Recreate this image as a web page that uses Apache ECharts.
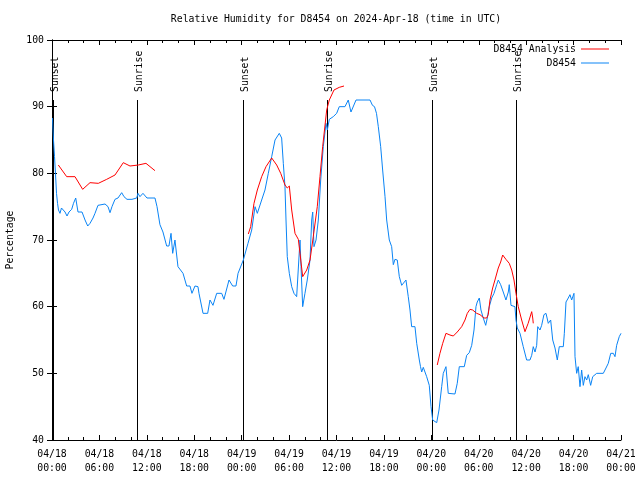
<!DOCTYPE html>
<html>
<head>
<meta charset="utf-8">
<script src="https://cdn.jsdelivr.net/npm/echarts@6/dist/echarts.min.js"></script>
<style>
html,body{margin:0;padding:0;background:#fff;}
#chart{width:640px;height:480px;}
</style>
</head>
<body>
<div id="chart"></div>
<script>
// ---- data (hours since 04/18 00:00 UTC, relative humidity %) ----
const xTickLabels = ['04/18\n00:00','04/18\n06:00','04/18\n12:00','04/18\n18:00','04/19\n00:00','04/19\n06:00','04/19\n12:00','04/19\n18:00','04/20\n00:00','04/20\n06:00','04/20\n12:00','04/20\n18:00','04/21\n00:00'];

const blueHours = [0.06,0.19,0.32,0.44,0.57,0.70,0.82,1.01,1.20,1.39,1.65,1.90,2.15,2.49,2.72,3.00,3.29,3.80,4.18,4.52,4.81,5.19,5.44,5.82,6.71,7.09,7.34,7.59,7.97,8.35,8.82,9.11,9.49,10.12,10.72,10.88,11.13,11.51,12.02,13.03,13.29,13.66,14.04,14.51,14.80,15.06,15.27,15.56,15.94,16.58,17.04,17.46,17.71,18.09,18.47,18.60,19.11,19.70,19.99,20.37,20.84,21.47,21.76,22.40,22.86,23.28,23.54,24.21,24.80,25.27,25.69,25.98,26.23,26.53,26.95,27.37,27.80,28.22,28.76,29.06,29.27,29.48,29.61,29.77,30.03,30.33,30.62,30.96,31.17,31.38,31.51,31.72,32.01,32.30,32.65,32.86,32.99,33.15,33.41,33.70,34.00,34.33,34.67,34.84,35.09,35.59,36.02,36.35,37.07,37.49,37.83,38.47,40.24,40.55,40.81,41.06,41.29,41.59,41.84,42.14,42.35,42.68,42.98,43.19,43.40,43.69,43.95,44.25,44.79,45.08,45.30,45.51,45.93,46.15,46.48,46.63,46.78,46.98,47.41,47.74,47.96,48.17,48.68,48.97,49.31,49.51,49.85,50.14,50.99,51.28,51.54,52.17,52.47,52.80,53.11,53.40,53.65,53.81,54.07,54.28,54.57,54.88,55.08,55.33,55.64,55.93,56.27,56.47,56.77,57.10,57.44,57.74,57.86,58.08,58.58,58.71,58.88,59.22,59.63,60.06,60.48,60.70,60.90,61.12,61.33,61.46,61.75,61.96,62.25,62.51,62.80,63.10,63.36,63.65,63.94,64.19,64.70,64.83,65.04,65.33,65.54,65.76,66.05,66.18,66.39,66.59,66.81,67.02,67.23,67.44,67.66,67.86,68.16,68.42,68.92,69.76,70.10,70.39,70.70,71.03,71.24,71.45,71.78,72.00];
const blueValues = [88.3,85,82.5,80,77,75.5,74.5,74,74.8,74.6,74.2,73.6,74.2,74.6,75.5,76.3,74.2,74.2,73,72.1,72.5,73.3,74,75.2,75.4,75,74.1,75,76.1,76.3,77.1,76.5,76.1,76.1,76.3,77,76.5,77,76.3,76.3,75,72.3,71.2,69.1,69.1,71,68,70,66,65,63.1,63.1,62,63.1,63,62,59,59,61,60.2,62,62,61.1,64,63.1,63.1,65,67,69.5,71.5,75,74,74,76,77.5,80,82.5,85,86,85.3,81.5,78,73,67.5,65,63,62,61.5,61.3,70,66,60,62,64,67,73,74.2,69,70,73,79,84,87.5,86.5,88.1,88.5,89,90,90,91,89.2,91,91,90.2,90,89,87,84,80.5,76.5,73,70,69,66.3,67.1,67,64.5,63.2,64,61.5,59.5,57,57,54.5,52,51,50.2,50.9,49.5,48.2,45,43,42.6,44.5,48,50,51,47,46.9,48.5,51,51,52.7,53.1,54.2,56.5,60,60.7,61.3,59.5,58.3,57.2,58.3,60,61.3,62,63.3,64,63.3,62.2,61,62.2,63.3,60.2,60,58,56.8,56,54,52,52,52.7,54,53.2,54.2,57,56.5,57.2,58.8,59,57.5,58,55,53.8,52,54,54,56,60.7,61.3,61.8,61,62,52.5,50,51,48,50.5,48.2,49.5,49,49.8,48.2,49.5,50,50,50.8,51.5,53,53,52.5,54.2,55.5,56];

const redHours = [0.80,1.86,2.91,3.88,4.81,5.86,6.92,7.97,9.02,9.87,10.92,11.89,13.03,
  18.0,
  24.84,25.14,25.56,25.98,26.53,27.08,27.80,28.43,28.94,29.48,29.77,30.03,30.33,30.75,31.17,31.38,31.72,32.23,32.65,33.06,33.57,33.91,34.25,34.76,35.09,35.68,36.35,36.95,
  42.0,
  48.75,49.09,49.44,49.85,50.36,50.78,51.28,51.84,52.26,52.55,52.89,53.23,53.74,54.16,54.66,55.00,55.20,55.42,55.76,56.05,56.47,56.77,57.03,57.44,57.86,58.17,58.46,58.71,59.00,59.43,59.85,60.25,60.70,60.83,60.90];
const redValues = [81.25,79.5,79.5,77.6,78.6,78.5,79.1,79.75,81.6,81.1,81.25,81.5,80.4,
  null,
  70.9,72,75.5,77.5,79.5,81,82.3,81.25,80,78.25,77.8,78.1,74.5,71,70.1,68,64.5,65.5,67,70.5,75,79.5,84,89.5,91,92.5,92.9,93.1,
  null,
  51.25,53,54.5,56,55.75,55.6,56.2,57,58,59,59.6,59.5,59,58.8,58.3,58.3,58.8,61,62.8,64,65.8,66.7,67.75,67.1,66.5,65.5,64,62,60,58,56.25,57.5,59.25,58.3,57.5];

const sunTimes = [0.08,10.77,24.13,34.83,48.09,58.75];
const sunLabels = ['Sunset','Sunrise','Sunset','Sunrise','Sunset','Sunrise'];
const sunLineTop = 91;

// ---- chart ----
const FONT = 'DejaVu Sans Mono';
const FS = 9.8;
const chart = echarts.init(document.getElementById('chart'), null, {renderer:'canvas'});

const blueData = blueHours.map((h,i)=>[h, blueValues[i]]);
const redData = redHours.map((h,i)=>[h, redValues[i] === null ? '-' : redValues[i]]);
const sunData = sunTimes.map((t,i)=>[t, sunLineTop, i]);

const axisLineStyle = {color:'#000', width:1};

chart.setOption({
  animation:false,
  backgroundColor:'#fff',
  title:{
    text:'Relative Humidity for D8454 on 2024-Apr-18 (time in UTC)',
    left:336, top:14, padding:0, textAlign:'center',
    textStyle:{fontFamily:FONT, fontSize:FS, fontWeight:'normal', color:'#000'}
  },
  legend:[
    {data:['D8454 Analysis'], orient:'vertical', right:31, top:44, padding:0, align:'right',
     icon:'rect', itemWidth:28, itemHeight:1, selectedMode:false,
     textStyle:{fontFamily:FONT, fontSize:FS, color:'#000'}},
    {data:['D8454'], orient:'vertical', right:31, top:58, padding:0, align:'right',
     icon:'rect', itemWidth:28, itemHeight:1, selectedMode:false,
     textStyle:{fontFamily:FONT, fontSize:FS, color:'#000'}}
  ],
  grid:{left:52, right:19, top:40, bottom:40, containLabel:false, outerBoundsMode:'none'},
  xAxis:[
    {type:'value', min:0, max:72, interval:6, position:'bottom',
     axisLine:{show:true, lineStyle:axisLineStyle},
     axisTick:{show:true, inside:true, length:5, lineStyle:axisLineStyle},
     minorTick:{show:true, splitNumber:3, length:3, lineStyle:axisLineStyle},
     splitLine:{show:false},
     axisLabel:{formatter:(v)=>xTickLabels[Math.round(v/6)], fontFamily:FONT, fontSize:FS, color:'#000', lineHeight:14, margin:7}},
    {type:'value', min:0, max:72, interval:6, position:'top',
     axisLine:{show:true, lineStyle:axisLineStyle},
     axisTick:{show:true, inside:true, length:5, lineStyle:axisLineStyle},
     minorTick:{show:true, splitNumber:3, length:3, lineStyle:axisLineStyle},
     splitLine:{show:false}, axisLabel:{show:false}}
  ],
  yAxis:[
    {type:'value', min:40, max:100, interval:10, position:'left',
     name:'Percentage', nameLocation:'middle', nameGap:35, nameRotate:90,
     nameTextStyle:{fontFamily:FONT, fontSize:FS, color:'#000'},
     axisLine:{show:true, lineStyle:axisLineStyle},
     axisTick:{show:true, inside:true, length:5, lineStyle:axisLineStyle},
     splitLine:{show:false},
     axisLabel:{fontFamily:FONT, fontSize:FS, color:'#000', margin:8}},
    {type:'value', min:40, max:100, interval:10, position:'right',
     axisLine:{show:true, lineStyle:axisLineStyle},
     axisTick:{show:true, inside:true, length:5, lineStyle:axisLineStyle},
     splitLine:{show:false}, axisLabel:{show:false}}
  ],
  series:[
    {type:'custom', name:'sun', xAxisIndex:0, yAxisIndex:0, silent:true, z:1, clip:false,
     data:sunData,
     renderItem:(params, api)=>{
       const t = api.value(0);
       const top = api.coord([t, api.value(1)]);
       const bot = api.coord([t, 40]);
       const x = Math.round(top[0]) + 0.5;
       return {type:'group', children:[
         {type:'line', shape:{x1:x, y1:top[1], x2:x, y2:bot[1]}, style:{stroke:'#000', lineWidth:1}},
         {type:'text', x:x+1.5, y:top[1]-8, rotation:Math.PI/2,
          style:{text:sunLabels[api.value(2)], font:FS+'px "'+FONT+'"', fill:'#000', align:'left', verticalAlign:'middle'}}
       ]};
     }},
    {type:'line', name:'D8454 Analysis', data:redData, showSymbol:false, symbol:'none', z:3,
     connectNulls:false, color:'#ff0000', lineStyle:{color:'#ff0000', width:1}},
    {type:'line', name:'D8454', data:blueData, showSymbol:false, symbol:'none', z:2,
     color:'#0a84f5', lineStyle:{color:'#0a84f5', width:1}}
  ]
});
</script>
</body>
</html>
